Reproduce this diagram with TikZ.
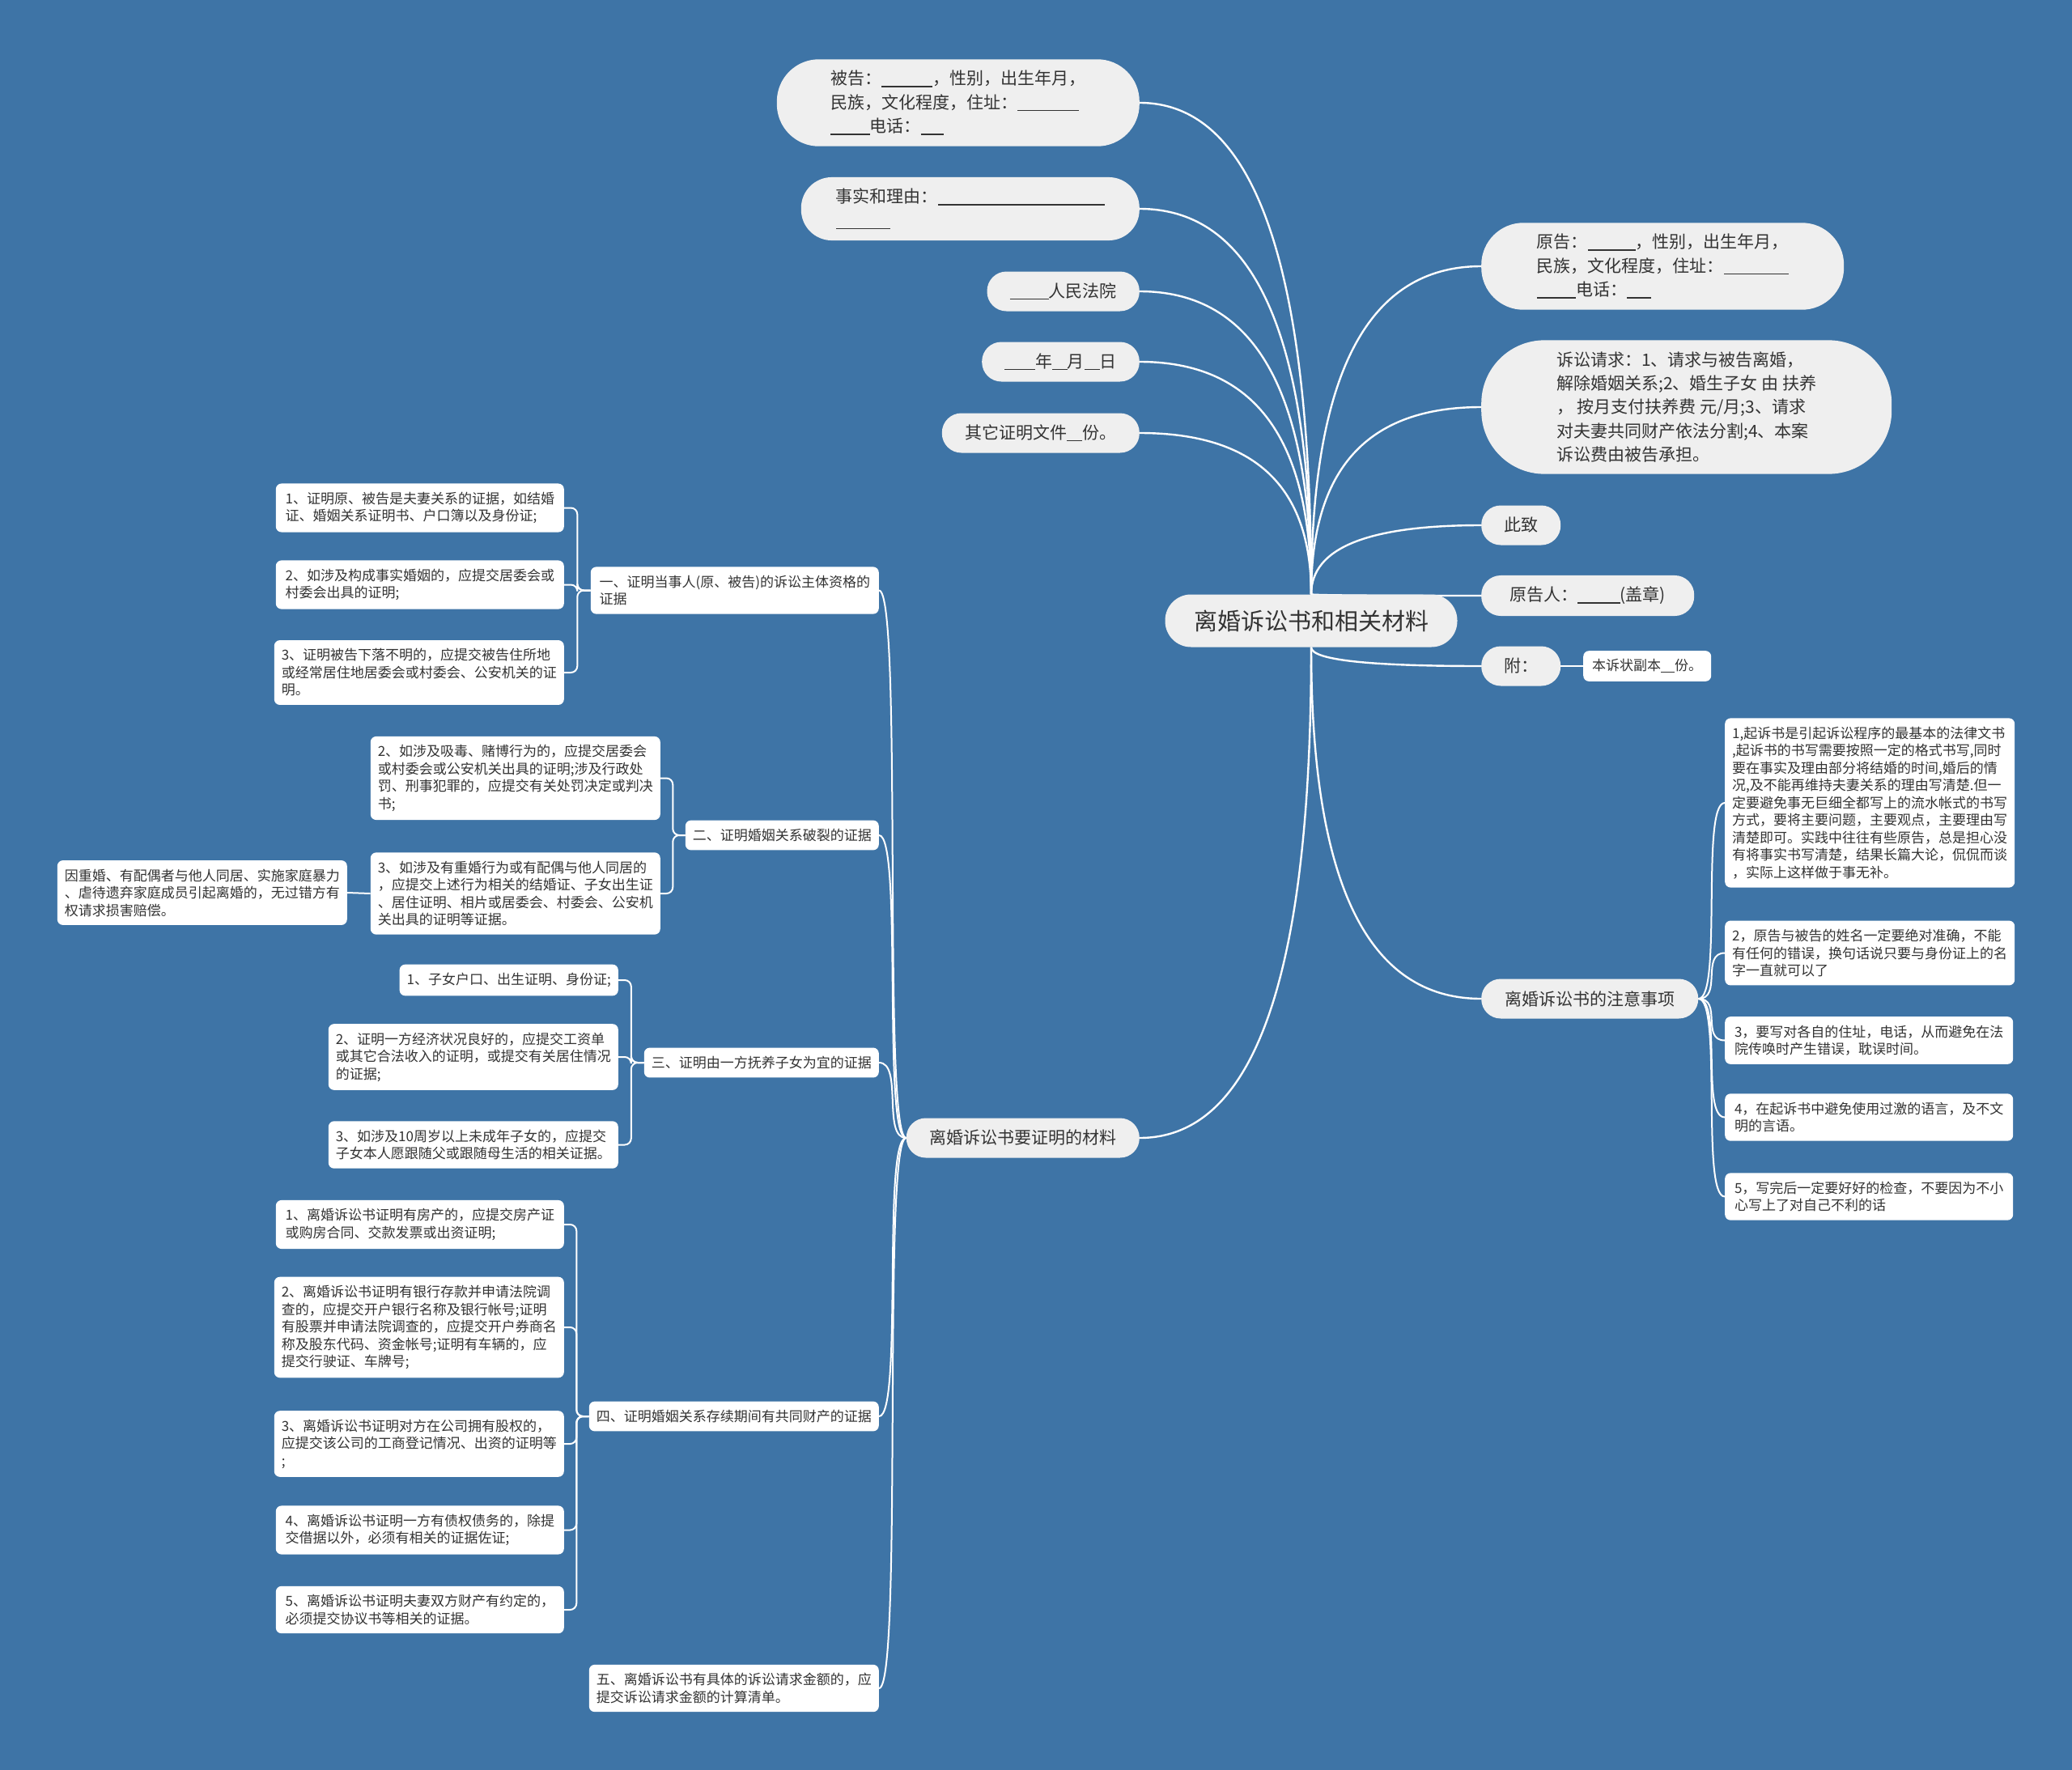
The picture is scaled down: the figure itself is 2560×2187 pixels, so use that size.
\documentclass[tikz,border=0pt]{standalone}
\usepackage{fontspec}
\newfontfamily\cjkfont{Noto Sans CJK SC}
\usepackage{tikz}
\usetikzlibrary{positioning,calc,backgrounds}
\definecolor{mapbg}{RGB}{62,116,166}
\definecolor{pillgray}{RGB}{239,239,239}
\definecolor{inkgray}{RGB}{51,51,51}
\newcommand{\undl}[1]{\rule[-0.14em]{#1em}{0.07em}}
\tikzset{
  rootnode/.style={fill=pillgray,rounded corners=32pt,minimum width=361pt,
    minimum height=65pt,text=inkgray,font=\cjkfont\fontsize{29}{34}\selectfont},
  pill/.style={fill=pillgray,rounded corners=24pt,minimum height=49pt,
    inner xsep=28pt,inner ysep=14pt,text=inkgray,align=left,
    font=\cjkfont\fontsize{21}{29.4}\selectfont},
  leaf/.style={fill=white,rounded corners=7pt,inner xsep=9pt,inner ysep=10.5pt,
    text=inkgray,align=left,font=\cjkfont\fontsize{17}{21.5}\selectfont},
  wide/.style={minimum width=356pt},
  link/.style={white,line width=2.4pt},
  sublink/.style={white,line width=2pt},
  fan/.style={to path={.. controls ($(\tikztostart)!.67!(\tikztostart |- \tikztotarget)$)
      and ($(\tikztotarget)!.67!(\tikztostart |- \tikztotarget)$) .. (\tikztotarget)}},
  lbranch/.style={to path={.. controls +(-30,0) and +(30,0) .. (\tikztotarget)}},
  rbranch/.style={to path={.. controls +(30,0) and +(-30,0) .. (\tikztotarget)}},
  elbow/.style={rounded corners=8pt,
    to path={-- ($(\tikztostart)!.5!(\tikztostart -| \tikztotarget)$) |- (\tikztotarget)}},
}

\begin{document}
\begin{tikzpicture}[x=1pt,y=-1pt]
  \useasboundingbox (0,0) rectangle (2560,2187);
  % ---- root ----
  \node[rootnode] (root) at (1620,767) {离婚诉讼书和相关材料};
  % ---- upper left: form fields ----
  \node[pill,anchor=east,minimum width=448pt,rounded corners=52pt] (beigao) at (1408,127)
    {被告：\undl{3}，性别，出生年月，\\民族，文化程度，住址：\undl{3.6}\\\undl{2.3}电话：\undl{1.35}};
  \node[pill,anchor=east,minimum width=418pt,rounded corners=38pt] (facts) at (1408,258)
    {事实和理由：\undl{9.8}\\\undl{3.2}};
  \node[pill,anchor=east,minimum width=187pt] (court) at (1408,360) {\undl{2.3}人民法院};
  \node[pill,anchor=east,minimum width=193pt] (date) at (1408,447) {\undl{1.8}年\undl{0.9}月\undl{0.9}日};
  \node[pill,anchor=east,minimum width=244pt] (other) at (1408,535) {其它证明文件\undl{0.9}份。};
  % ---- upper right ----
  \node[pill,anchor=west,minimum width=448pt,rounded corners=52pt] (yuangao) at (1830,329)
    {原告：\undl{2.8}，性别，出生年月，\\民族，文化程度，住址：\undl{3.8}\\\undl{2.3}电话：\undl{1.4}};
  \node[pill,anchor=west,minimum width=507pt,rounded corners=78pt] (qingqiu) at (1830,503)
    {诉讼请求：1、请求与被告离婚，\\解除婚姻关系;2、婚生子女 由 扶养\\， 按月支付扶养费 元/月;3、请求\\对夫妻共同财产依法分割;4、本案\\诉讼费由被告承担。};
  \node[pill,anchor=west,minimum width=97pt] (cizhi) at (1830,649) {此致};
  \node[pill,anchor=west,minimum width=263pt] (sign) at (1830,736) {原告人：\undl{2.5}(盖章)};
  \node[pill,anchor=west,minimum width=93pt] (fu) at (1830,823) {附：};
  \node[leaf,anchor=west,inner xsep=11pt] (copy) at (1956,823) {本诉状副本\undl{1}份。};
  % ---- notes ----
  \node[pill,anchor=west,minimum width=268pt] (notes) at (1830,1234) {离婚诉讼书的注意事项};
  \node[leaf,wide,anchor=west] (n1) at (2131,992)
    {1,起诉书是引起诉讼程序的最基本的法律文书\\,起诉书的书写需要按照一定的格式书写,同时\\要在事实及理由部分将结婚的时间,婚后的情\\况,及不能再维持夫妻关系的理由写清楚.但一\\定要避免事无巨细全都写上的流水帐式的书写\\方式，要将主要问题，主要观点，主要理由写\\清楚即可。实践中往往有些原告，总是担心没\\有将事实书写清楚，结果长篇大论，侃侃而谈\\，实际上这样做于事无补。};
  \node[leaf,wide,anchor=west] (n2) at (2131,1177.5)
    {2，原告与被告的姓名一定要绝对准确，不能\\有任何的错误，换句话说只要与身份证上的名\\字一直就可以了};
  \node[leaf,wide,anchor=west] (n3) at (2131,1285.5)
    {3，要写对各自的住址，电话，从而避免在法\\院传唤时产生错误，耽误时间。};
  \node[leaf,wide,anchor=west] (n4) at (2131,1380.5)
    {4，在起诉书中避免使用过激的语言，及不文\\明的言语。};
  \node[leaf,wide,anchor=west] (n5) at (2131,1478.5)
    {5，写完后一定要好好的检查，不要因为不小\\心写上了对自己不利的话};
  % ---- evidence ----
  \node[pill,anchor=east,minimum width=288pt] (proof) at (1408,1406) {离婚诉讼书要证明的材料};
  \node[leaf,wide,anchor=east] (p1) at (1086,729.5) {一、证明当事人(原、被告)的诉讼主体资格的\\证据};
  \node[leaf,anchor=east] (p2) at (1086,1032) {二、证明婚姻关系破裂的证据};
  \node[leaf,anchor=east] (p3) at (1086,1313) {三、证明由一方抚养子女为宜的证据};
  \node[leaf,wide,anchor=east] (p4) at (1086,1750) {四、证明婚姻关系存续期间有共同财产的证据};
  \node[leaf,wide,anchor=east] (p5) at (1086,2086) {五、离婚诉讼书有具体的诉讼请求金额的，应\\提交诉讼请求金额的计算清单。};
  % ---- evidence 1 ----
  \node[leaf,wide,anchor=east] (p1a) at (697,627.5) {1、证明原、被告是夫妻关系的证据，如结婚\\证、婚姻关系证明书、户口簿以及身份证;};
  \node[leaf,wide,anchor=east] (p1b) at (697,722.5) {2、如涉及构成事实婚姻的，应提交居委会或\\村委会出具的证明;};
  \node[leaf,wide,anchor=east] (p1c) at (697,831) {3、证明被告下落不明的，应提交被告住所地\\或经常居住地居委会或村委会、公安机关的证\\明。};
  % ---- evidence 2 ----
  \node[leaf,wide,anchor=east] (p2b) at (816,961.5) {2、如涉及吸毒、赌博行为的，应提交居委会\\或村委会或公安机关出具的证明;涉及行政处\\罚、刑事犯罪的，应提交有关处罚决定或判决\\书;};
  \node[leaf,wide,anchor=east] (p2c) at (816,1104) {3、如涉及有重婚行为或有配偶与他人同居的\\，应提交上述行为相关的结婚证、子女出生证\\、居住证明、相片或居委会、村委会、公安机\\关出具的证明等证据。};
  \node[leaf,wide,anchor=east] (p2d) at (429,1103) {因重婚、有配偶者与他人同居、实施家庭暴力\\、虐待遗弃家庭成员引起离婚的，无过错方有\\权请求损害赔偿。};
  % ---- evidence 3 ----
  \node[leaf,anchor=east] (p3a) at (764,1211) {1、子女户口、出生证明、身份证;};
  \node[leaf,anchor=east,minimum width=354pt] (p3b) at (764,1306) {2、证明一方经济状况良好的，应提交工资单\\或其它合法收入的证明，或提交有关居住情况\\的证据;};
  \node[leaf,anchor=east,minimum width=354pt] (p3c) at (764,1414.5) {3、如涉及10周岁以上未成年子女的，应提交\\子女本人愿跟随父或跟随母生活的相关证据。};
  % ---- evidence 4 ----
  \node[leaf,wide,anchor=east] (p4a) at (697,1513) {1、离婚诉讼书证明有房产的，应提交房产证\\或购房合同、交款发票或出资证明;};
  \node[leaf,wide,anchor=east] (p4b) at (697,1640) {2、离婚诉讼书证明有银行存款并申请法院调\\查的，应提交开户银行名称及银行帐号;证明\\有股票并申请法院调查的，应提交开户券商名\\称及股东代码、资金帐号;证明有车辆的，应\\提交行驶证、车牌号;};
  \node[leaf,wide,anchor=east] (p4c) at (697,1784) {3、离婚诉讼书证明对方在公司拥有股权的，\\应提交该公司的工商登记情况、出资的证明等\\;};
  \node[leaf,wide,anchor=east] (p4d) at (697,1890.5) {4、离婚诉讼书证明一方有债权债务的，除提\\交借据以外，必须有相关的证据佐证;};
  \node[leaf,wide,anchor=east] (p4e) at (697,1989) {5、离婚诉讼书证明夫妻双方财产有约定的，\\必须提交协议书等相关的证据。};
  % ---- connectors ----
  \begin{scope}[on background layer]
    \fill[mapbg] (0,0) rectangle (2560,2187);
    \foreach \n in {beigao,facts,court,date,other}
      \draw[link] (root.north) to[fan] (\n.east);
    \foreach \n in {yuangao,qingqiu,cizhi,sign}
      \draw[link] (root.north) to[fan] (\n.west);
    \draw[link] (root.south) to[fan] (fu.west);
    \draw[link] (root.south) to[fan] (notes.west);
    \draw[link] (root.south) to[fan] (proof.east);
    \draw[sublink] (fu.east) -- (copy.west);
    \foreach \i in {1,...,5}
      \draw[sublink] (notes.east) to[rbranch] (n\i.west);
    \foreach \i in {1,...,5}
      \draw[sublink] (proof.west) to[lbranch] (p\i.east);
    \foreach \c in {p1a,p1b,p1c}
      \draw[sublink] (p1.west) to[elbow] (\c.east);
    \foreach \c in {p2b,p2c}
      \draw[sublink] (p2.west) to[elbow] (\c.east);
    \draw[sublink] (p2c.west) -- (p2d.east);
    \foreach \c in {p3a,p3b,p3c}
      \draw[sublink] (p3.west) to[elbow] (\c.east);
    \foreach \c in {p4a,p4b,p4c,p4d,p4e}
      \draw[sublink] (p4.west) to[elbow] (\c.east);
  \end{scope}
\end{tikzpicture}
\end{document}
